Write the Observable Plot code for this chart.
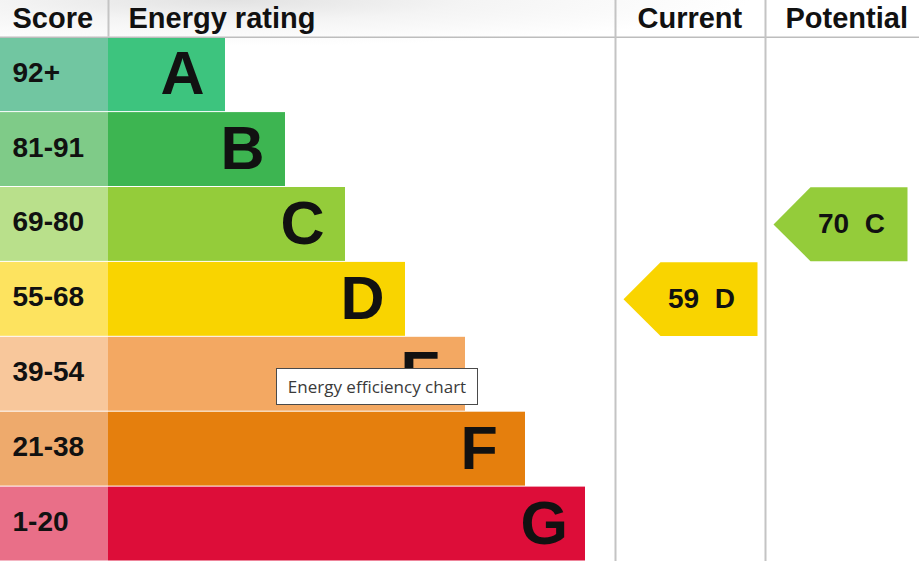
<!DOCTYPE html>
<html>
<head>
<meta charset="utf-8">
<script src="https://cdn.jsdelivr.net/npm/d3@7"></script>
<script src="https://cdn.jsdelivr.net/npm/@observablehq/plot@0.6"></script>
<style>
  html, body { margin: 0; padding: 0; background: #fff; }
  #wrap { position: relative; width: 919px; height: 561px; overflow: hidden;
    background: radial-gradient(ellipse 520px 46px at 230px 0px, #e2e2e2 0%, #f4f4f4 45%, rgba(255,255,255,0) 100%), #fff; }
  #wrap svg { position: absolute; left: 0; top: 0; }
  #tip { position: absolute; left: 276px; top: 368px; width: 200px; height: 35px;
    border: 1px solid #4a4a4a; background: #fff; color: #3a3a3a;
    font: 17px "Open Sans", "Noto Sans", sans-serif; line-height: 35px; text-align: center; box-sizing: content-box; }
</style>
</head>
<body>
<div id="wrap"></div>
<script>
// ---- data ----
const ratings = ["A", "B", "C", "D", "E", "F", "G"];
const scoreRanges = ["92+", "81-91", "69-80", "55-68", "39-54", "21-38", "1-20"];
const lowerBounds = [92, 81, 69, 55, 39, 21, 1];
const barColors = ["#3dc47e", "#3db551", "#94cc3a", "#f9d400", "#f3a862", "#e57f0d", "#dd0d39"];
const scoreColors = ["#71c6a1", "#7fcb88", "#b9e08b", "#fde35f", "#f8c79b", "#eeaa6c", "#e96f88"];
const headers = ["Score", "Energy rating", "Current", "Potential"];
const currentScore = 59;
const potentialScore = 70;

// ---- layout constants ----
const W = 919, H = 561;
const colStart = [0, 108, 615, 765];
const headerPad = [12, 20, 22, 20];
const barBase = 117, barStep = 60;
const HDR = -0.49; // header height in row units

const bandIndex = s => lowerBounds.findIndex(b => s >= b);
const rows = ratings.map((r, i) => ({
  rating: r, range: scoreRanges[i], i,
  bar: barColors[i], light: scoreColors[i],
  end: colStart[1] + barBase + barStep * i
}));

const arrows = [
  {score: currentScore, col: colStart[2]},
  {score: potentialScore, col: colStart[3]}
].map(a => {
  const idx = bandIndex(a.score);
  return {...a, idx, rating: ratings[idx], color: barColors[idx],
    label: a.score + "\u00a0\u00a0" + ratings[idx]};
});
const arrowPts = a => [
  {x: a.col + 8, y: a.idx + 0.5},
  {x: a.col + 45, y: a.idx + 0.004},
  {x: a.col + 142, y: a.idx + 0.004},
  {x: a.col + 142, y: a.idx + 0.99},
  {x: a.col + 45, y: a.idx + 0.99}
];

const font = "'Liberation Sans', Arial, Helvetica, sans-serif";

const chart = Plot.plot({
  width: W, height: H, margin: 0,
  x: {domain: [0, W], range: [0, W], axis: null},
  y: {domain: [HDR, 7], range: [0, H], axis: null},
  color: {type: "identity"},
  style: {fontFamily: font, background: "transparent", color: "#111"},
  marks: [
    // score column cells
    Plot.rect(rows, {x1: colStart[0], x2: colStart[1], y1: d => d.i, y2: d => d.i + 1,
      fill: "light", insetTop: 0.5, insetBottom: 0.5}),
    // rating bars
    Plot.rect(rows, {x1: colStart[1], x2: "end", y1: d => d.i, y2: d => d.i + 1,
      fill: "bar", insetTop: 0.5, insetBottom: 0.5}),
    // score labels
    Plot.text(rows, {x: colStart[0] + headerPad[0], y: d => d.i + 0.5, text: "range",
      textAnchor: "start", fontSize: 28, fontWeight: "bold", dy: -2, fill: "#111"}),
    // letters
    Plot.text(rows, {x: d => d.end - 65, y: d => d.i + 0.5, text: "rating",
      textAnchor: "start", fontSize: 61, fontWeight: "bold", fill: "#111"}),
    // grid rules
    Plot.ruleY([0], {stroke: "#bdbdbd", strokeWidth: 1.5}),
    Plot.ruleX([colStart[1]], {y1: HDR, y2: 0, stroke: "#c4c4c4", strokeWidth: 2}),
    Plot.ruleX([colStart[2], colStart[3]], {y1: HDR, y2: 7, stroke: "#c4c4c4", strokeWidth: 2}),
    // headers
    Plot.text(headers, {x: (d, i) => colStart[i] + headerPad[i], y: HDR / 2, text: d => d,
      textAnchor: "start", fontSize: 29, fontWeight: "bold", fill: "#111"}),
    // arrows
    ...arrows.map(a => Plot.line(arrowPts(a), {x: "x", y: "y", fill: a.color, stroke: "none"})),
    Plot.text(arrows, {x: d => d.col + 86, y: d => d.idx + 0.5, text: "label",
      textAnchor: "middle", fontSize: 28, fontWeight: "bold", fill: "#111"})
  ]
});

const wrap = document.getElementById("wrap");
wrap.appendChild(chart);
const tip = document.createElement("div");
tip.id = "tip";
tip.textContent = "Energy efficiency chart";
wrap.appendChild(tip);
</script>
</body>
</html>
